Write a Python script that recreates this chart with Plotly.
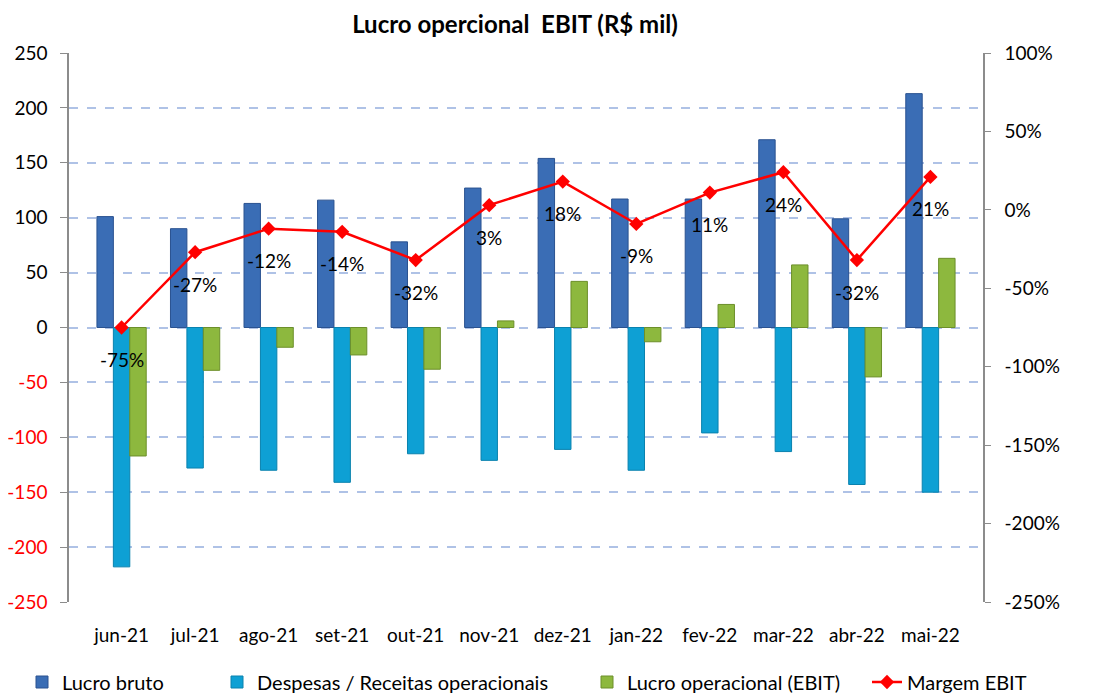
import plotly.graph_objects as go

categories = ["jun-21", "jul-21", "ago-21", "set-21", "out-21", "nov-21",
              "dez-21", "jan-22", "fev-22", "mar-22", "abr-22", "mai-22"]
lucro_bruto = [101, 90, 113, 116, 78, 127, 154, 117, 117, 171, 99, 213]
despesas = [-218, -128, -130, -141, -115, -121, -111, -130, -96, -113, -143, -150]
ebit = [-117, -39, -18, -25, -38, 6, 42, -13, 21, 57, -45, 63]
margem = [-75, -27, -12, -14, -32, 3, 18, -9, 11, 24, -32, 21]

left_ticks = [250, 200, 150, 100, 50, 0, -50, -100, -150, -200, -250]
left_text = [str(v) if v >= 0 else f"<span style='color:#FF0000'>{v}</span>" for v in left_ticks]
right_ticks = [100, 50, 0, -50, -100, -150, -200, -250]
right_text = [f"{v}%" for v in right_ticks]

FONT = "Lato"
TICK = 19
W, H = 1096, 693
OFF = 8  # page body margin in the browser

fig = go.Figure()

fig.add_trace(go.Bar(x=categories, y=lucro_bruto, name="Lucro bruto",
                     marker=dict(color="#3A6DB5", line=dict(color="#2A5290", width=1)),
                     legend="legend"))
fig.add_trace(go.Bar(x=categories, y=despesas, name="Despesas / Receitas operacionais",
                     marker=dict(color="#0EA0D4", line=dict(color="#0A82AE", width=1)),
                     legend="legend2"))
fig.add_trace(go.Bar(x=categories, y=ebit, name="Lucro operacional (EBIT)",
                     marker=dict(color="#8DB83E", line=dict(color="#6C8F2A", width=1)),
                     legend="legend3"))
fig.add_trace(go.Scatter(x=categories, y=margem, name="Margem EBIT", yaxis="y2",
                         mode="lines+markers",
                         line=dict(color="#FF0000", width=2.5),
                         marker=dict(symbol="diamond", size=11, color="#FF0000"),
                         legend="legend4"))

annotations = []
for c, m in zip(categories, margem):
    annotations.append(dict(x=c, y=m, xref="x", yref="y2", text=f"{m}%",
                            showarrow=False, yshift=-32,
                            font=dict(family=FONT, size=TICK, color="black")))

legend_common = dict(orientation="h", xref="container", yref="container",
                     yanchor="middle", y=1 - (682 - OFF) / H, xanchor="left",
                     font=dict(family=FONT, size=20, color="black"),
                     bgcolor="rgba(0,0,0,0)", itemwidth=30, visible=True)

fig.update_layout(
    width=W, height=H,
    showlegend=True,
    margin=dict(l=69 - OFF, r=W - (983 - OFF), t=53 - OFF, b=H - (602 - OFF), autoexpand=False),
    paper_bgcolor="white", plot_bgcolor="white",
    barmode="group", bargap=0.33, bargroupgap=0,
    title=dict(text="<b>Lucro opercional  EBIT (R$ mil)</b>", x=(515 - OFF) / W, xanchor="center",
               y=1 - (25 - OFF) / H, yanchor="middle",
               font=dict(family=FONT, size=24, color="black")),
    font=dict(family=FONT, size=TICK, color="black"),
    xaxis=dict(type="category", categoryorder="array", categoryarray=categories,
               showline=False, ticks="", showgrid=False, ticklabelstandoff=20,
               tickfont=dict(family=FONT, size=TICK, color="black")),
    xaxis2=dict(overlaying="x", anchor="free", position=0.5, range=[-0.5, 11.5],
                tickvals=[i + 0.5 for i in range(len(categories) - 1)],
                showticklabels=False, ticks="outside", ticklen=6, tickcolor="#8C8C8C",
                showline=True, linecolor="#8C8C8C", linewidth=1.5, showgrid=False,
                zeroline=False),
    yaxis=dict(range=[-250, 250], tickvals=left_ticks, ticktext=left_text,
               showgrid=True, gridcolor="#AFC2E6", griddash="dash", gridwidth=1.5,
               zeroline=False, showline=True, linecolor="#8C8C8C", linewidth=1.5,
               ticks="outside", ticklen=7, tickcolor="#8C8C8C", ticklabelstandoff=9,
               tickfont=dict(family=FONT, size=TICK, color="black")),
    yaxis2=dict(range=[-250, 100], tickvals=right_ticks, ticktext=right_text,
                overlaying="y", side="right",
                showgrid=False, zeroline=False, showline=True, linecolor="#8C8C8C",
                linewidth=1.5, ticks="outside", ticklen=6, tickcolor="#8C8C8C",
                ticklabelstandoff=10,
                tickfont=dict(family=FONT, size=TICK, color="black")),
    legend=dict(legend_common, x=(22 - OFF) / W),
    legend2=dict(legend_common, x=(217 - OFF) / W),
    legend3=dict(legend_common, x=(587 - OFF) / W),
    legend4=dict(legend_common, x=(867 - OFF) / W),
    annotations=annotations,
)

fig.write_html("out.html")
